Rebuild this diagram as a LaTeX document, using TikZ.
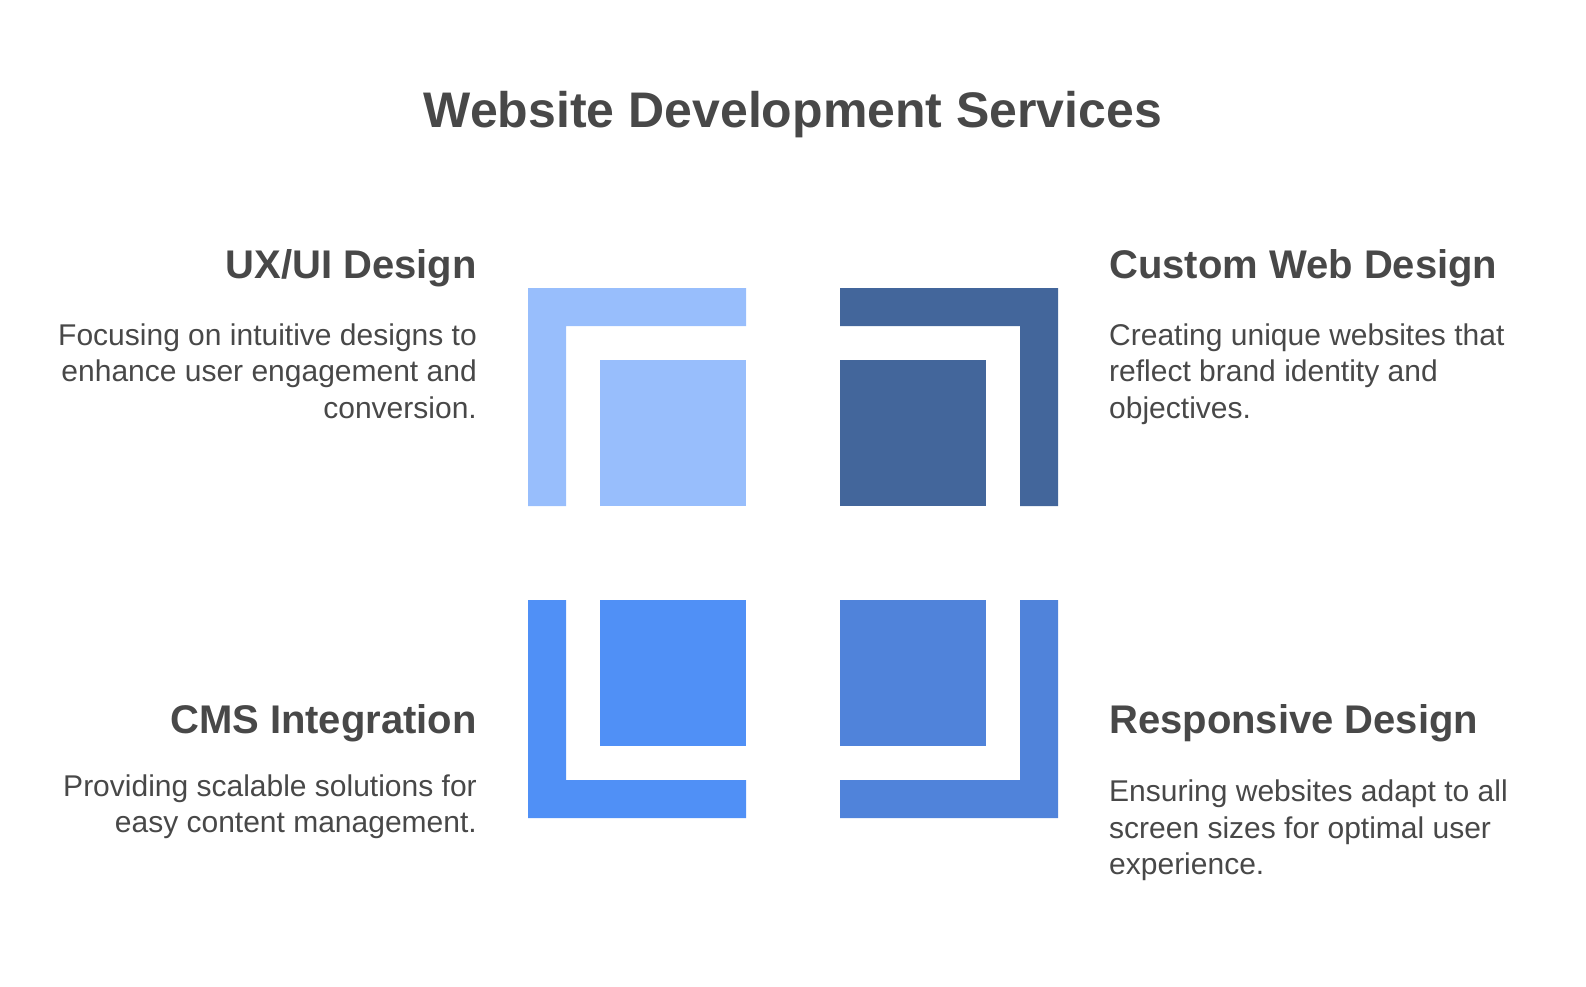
\documentclass[tikz,border=0pt]{standalone}
\usepackage{fontspec}
\setmainfont{Liberation Sans}
\definecolor{txt}{HTML}{484848}
\definecolor{cA}{HTML}{98BEFC}
\definecolor{cB}{HTML}{43669B}
\definecolor{cC}{HTML}{5090F6}
\definecolor{cD}{HTML}{5083DA}
\begin{document}
\begin{tikzpicture}[x=1pt,y=-1pt,
  titletext/.style={font=\fontsize{50}{60}\selectfont\bfseries, text=txt, inner sep=0pt},
  headtext/.style={font=\fontsize{40}{48}\selectfont\bfseries, text=txt, inner sep=0pt},
  desctext/.style={font=\fontsize{30}{36.5}\selectfont, text=txt, inner sep=0pt},
]
\useasboundingbox (0,0) rectangle (1586,986);

% top-left (UX/UI)
\fill[cA] (528,288) -- (746,288) -- (746,326) -- (566,326) -- (566,506) -- (528,506) -- cycle;
\fill[cA] (600,360) rectangle (746,506);
% top-right (Custom)
\fill[cB] (840,288) -- (1058,288) -- (1058,506) -- (1020,506) -- (1020,326) -- (840,326) -- cycle;
\fill[cB] (840,360) rectangle (986,506);
% bottom-left (CMS)
\fill[cC] (528,600) -- (566,600) -- (566,780) -- (746,780) -- (746,818) -- (528,818) -- cycle;
\fill[cC] (600,600) rectangle (746,746);
% bottom-right (Responsive)
\fill[cD] (1020,600) -- (1058,600) -- (1058,818) -- (840,818) -- (840,780) -- (1020,780) -- cycle;
\fill[cD] (840,600) rectangle (986,746);

\node[titletext, anchor=base] (title) at (793,127) {Website Development Services};

% anchor "base" of a multi-line node is the baseline of its last line
\node[headtext, anchor=base east] (uxh) at (477,278) {UX/UI Design};
\node[desctext, anchor=base east, align=right] (uxd) at (477,418) {Focusing on intuitive designs to\\enhance user engagement and\\conversion.};

\node[headtext, anchor=base west] (cwh) at (1109,278) {Custom Web Design};
\node[desctext, anchor=base west, align=left] (cwd) at (1109,418) {Creating unique websites that\\reflect brand identity and\\objectives.};

\node[headtext, anchor=base east] (cmsh) at (477,733) {CMS Integration};
\node[desctext, anchor=base east, align=right] (cmsd) at (477,832.5) {Providing scalable solutions for\\easy content management.};

\node[headtext, anchor=base west] (rdh) at (1109,733) {Responsive Design};
\node[desctext, anchor=base west, align=left] (rdd) at (1109,874.5) {Ensuring websites adapt to all\\screen sizes for optimal user\\experience.};
\end{tikzpicture}
\end{document}
